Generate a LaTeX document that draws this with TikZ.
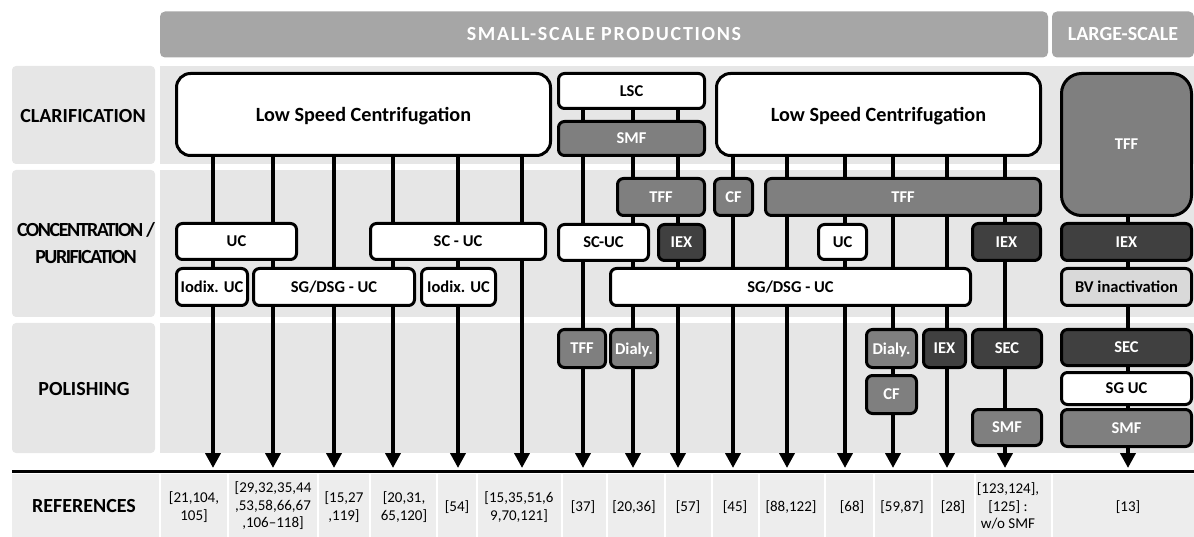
\documentclass[tikz,border=0pt]{standalone}
\usepackage{fontspec}
\setmainfont{Carlito}
\usetikzlibrary{arrows.meta,calc}
\pgfdeclarelayer{bg}
\pgfdeclarelayer{lines}
\pgfsetlayers{bg,lines,main}
\definecolor{hdr}{HTML}{A6A6A6}
\definecolor{pan}{HTML}{E6E6E6}
\definecolor{refbg}{HTML}{EDEDED}
\definecolor{midg}{HTML}{7F7F7F}
\definecolor{darkg}{HTML}{404040}
\definecolor{lightg}{HTML}{D9D9D9}
\newcommand\labfont{\fontsize{20pt}{27pt}\selectfont\bfseries}
\newcommand\bigboxfont{\fontsize{20.2pt}{24pt}\selectfont\bfseries}
\newcommand\boxfont{\fontsize{16.5pt}{19pt}\selectfont\bfseries}
\newcommand\reffont{\fontsize{15pt}{17.5pt}\selectfont}
\newfontfamily\hdrfont[LetterSpace=8.5]{Carlito}
\newfontfamily\condfont[LetterSpace=-7.5]{Carlito}
% \bx{name}{x1}{y1}{x2}{y2}{style}{text}
\newcommand\bx[7]{\node[#6, minimum width={#4pt-#2pt-3pt}, minimum height={#5pt-#3pt-3pt}] (#1) at ({(#2+#4)/2},{(#3+#5)/2}) {#7};}
\tikzset{
  bx/.style={draw=black, line width=3pt, rounded corners=6pt, inner sep=0pt, font=\boxfont, align=center, fill=white, text depth=0pt},
  wbox/.style={bx, fill=white, text=black},
  mbox/.style={bx, fill=midg, text=white},
  dbox/.style={bx, fill=darkg, text=white},
  lbox/.style={bx, fill=lightg, text=black},
  flow/.style={line width=4pt, -{Triangle[width=15pt,length=15pt]}},
  rowlab/.style={font=\labfont, align=center, inner sep=0pt},
  reflab/.style={font=\reffont, align=center, inner sep=0pt},
  hdrbar/.style={fill=hdr, rounded corners=5pt, text=white, inner sep=0pt},
  sep/.style={draw=white, line width=2pt}
}
\begin{document}
\begin{tikzpicture}[x=1pt,y=-1pt]
\useasboundingbox (0,0) rectangle (1194,537);
% backgrounds
\begin{pgfonlayer}{bg}
\fill[pan, rounded corners=4pt] (12,66) rectangle (155,164);
\fill[pan, rounded corners=4pt] (12,170) rectangle (155,317);
\fill[pan, rounded corners=4pt] (12,323) rectangle (155,453);
\fill[pan] (160,66) rectangle (1194,164);
\fill[pan] (160,170) rectangle (1194,317);
\fill[pan] (160,323) rectangle (1194,453);
\fill[refbg] (12,474) rectangle (1194,537);
\foreach \s in {160,228,318,370,437,477,562,607,665,712,759,825,874,932,975,1052}
  \draw[sep] (\s,474) -- (\s,537);
\end{pgfonlayer}
\draw[line width=3pt] (12,471.5) -- (1194,471.5);
% headers
\node[hdrbar, minimum width=888pt, minimum height=46pt, font=\hdrfont\fontsize{20pt}{22pt}\selectfont\bfseries] (small) at (604,34.5) {SMALL-SCALE PRODUCTIONS};
\node[hdrbar, minimum width=142pt, minimum height=46pt, font=\labfont] (large) at (1123,34.5) {LARGE-SCALE};
% row labels
\node[rowlab] (lclar) at (83,116.5) {CLARIFICATION};
\node[rowlab, font=\condfont\fontsize{20pt}{27pt}\selectfont\bfseries] (lconc) at (86,243.5) {CONCENTRATION /\\PURIFICATION};
\node[rowlab] (lpol) at (84,389.5) {POLISHING};
\node[rowlab] (lref) at (84,506.5) {REFERENCES};
% clarification
\bx{lsc1}{175}{72}{552}{157}{wbox, rounded corners=14pt, font=\bigboxfont}{Low Speed Centrifugation}
\bx{lscs}{557}{72}{706}{110}{wbox}{LSC}
\bx{smf1}{557}{120}{706}{157}{mbox}{SMF}
\bx{lsc2}{715}{72}{1042}{157}{wbox, rounded corners=14pt, font=\bigboxfont}{Low Speed Centrifugation}
\bx{tffL}{1060}{72}{1193}{217}{mbox, rounded corners=20pt}{TFF}
% concentration / purification
\bx{uc1}{175}{222}{298}{261}{wbox}{UC}
\bx{scuc}{369}{222}{547}{261}{wbox}{SC - UC}
\bx{scuc2}{557}{223}{650}{262}{wbox}{SC-UC}
\bx{iex1}{657}{223}{706}{262}{dbox}{IEX}
\bx{tff1}{616}{177}{706}{217}{mbox}{TFF}
\bx{cf1}{713}{177}{754}{217}{mbox}{CF}
\bx{tff2}{764}{177}{1042}{217}{mbox}{TFF}
\bx{uc2}{817}{223}{868}{261}{wbox}{UC}
\bx{iex2}{971}{222}{1042}{262}{dbox}{IEX}
\bx{iexL}{1060}{222}{1193}{262}{dbox}{IEX}
\bx{iod1}{175}{267}{249}{307}{wbox}{Iodix. UC}
\bx{sg1}{252}{267}{416}{307}{wbox}{SG/DSG - UC}
\bx{iod2}{420}{267}{497}{307}{wbox}{Iodix. UC}
\bx{sg2}{609}{267}{972}{307}{wbox}{SG/DSG - UC}
\bx{bv}{1060}{267}{1193}{307}{lbox}{BV inactivation}
% polishing
\bx{tff3}{557}{328}{607}{369}{mbox}{TFF}
\bx{dia1}{609}{328}{659}{369}{mbox}{Dialy.}
\bx{dia2}{865}{328}{918}{369}{mbox}{Dialy.}
\bx{cf2}{865}{374}{918}{415}{mbox}{CF}
\bx{iex3}{922}{328}{967}{369}{dbox}{IEX}
\bx{sec1}{971}{328}{1043}{369}{dbox}{SEC}
\bx{smf2}{971}{408}{1043}{447}{mbox}{SMF}
\bx{secL}{1060}{328}{1193}{367}{dbox}{SEC}
\bx{sgL}{1060}{371}{1193}{406}{wbox}{SG UC}
\bx{smfL}{1060}{408}{1193}{448}{mbox}{SMF}
% arrow tips
\foreach \n/\x in {1/213,2/273,3/334,4/393,5/458,6/522,7/583,8/633,9/678,10/733,11/787,12/845,13/893,14/947,15/1005,16/1128}
  \coordinate (t\n) at (\x,468);
\begin{pgfonlayer}{lines}
\foreach \n in {1,...,6} \draw[flow] (lsc1.south -| t\n) -- (t\n);
\foreach \n in {7,8,9} \draw[flow] (lscs.south -| t\n) -- (t\n);
\foreach \n in {10,...,15} \draw[flow] (lsc2.south -| t\n) -- (t\n);
\draw[flow] (tffL.south -| t16) -- (t16);
\end{pgfonlayer}
% references
\node[reflab] (r1) at (194,507) {[21,104,\\105]};
\node[reflab] (r2) at (273,506) {[29,32,35,44\\,53,58,66,67\\,106–118]};
\node[reflab] (r3) at (344,507) {[15,27\\,119]};
\node[reflab] (r4) at (404,507) {[20,31,\\65,120]};
\node[reflab] (r5) at (457,507) {[54]};
\node[reflab] (r6) at (519,507) {[15,35,51,6\\9,70,121]};
\node[reflab] (r7) at (583,507) {[37]};
\node[reflab] (r8) at (634,507) {[20,36]};
\node[reflab] (r9) at (688,507) {[57]};
\node[reflab] (r10) at (735,507) {[45]};
\node[reflab] (r11) at (791,507) {[88,122]};
\node[reflab] (r12) at (852,507) {[68]};
\node[reflab] (r13) at (902,507) {[59,87]};
\node[reflab] (r14) at (953,507) {[28]};
\node[reflab] (r15) at (1008,506) {[123,124],\\{[125]} :\\w/o SMF};
\node[reflab] (r16) at (1128,507) {[13]};
\end{tikzpicture}
\end{document}
